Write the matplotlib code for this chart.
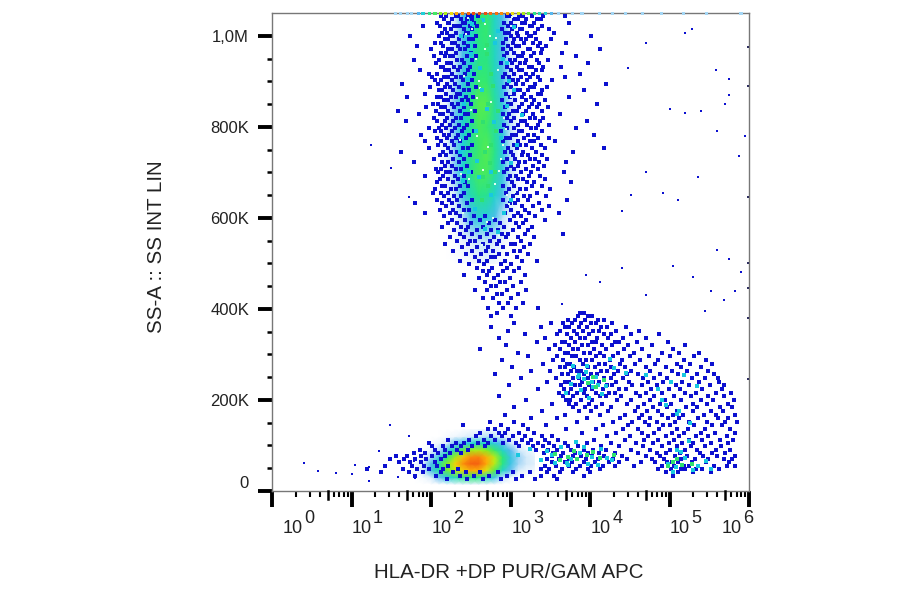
import numpy as np
import matplotlib
matplotlib.use('Agg')
import matplotlib.pyplot as plt
from matplotlib.colors import LinearSegmentedColormap

plt.rcParams['font.family'] = ['Liberation Sans', 'DejaVu Sans']

# density grids (x in decades, y in thousands, level 0-10)
column_x = [2.0, 2.1, 2.2, 2.3, 2.4, 2.5, 2.6, 2.7, 2.8, 2.9, 3.0, 3.1, 3.2]
column_y = [500, 550, 600, 650, 700, 750, 800, 850, 900, 950, 1000, 1050]
column_level = [
    [0, 0, 0, 0, 0.1, 0.3, 0.5, 0.5, 0.3, 0.1, 0, 0, 0],
    [0, 0, 0, 0.2, 0.6, 1.0, 1.3, 1.3, 1.0, 0.5, 0.1, 0, 0],
    [0, 0, 0.1, 0.5, 1.3, 2.2, 2.8, 2.8, 2.2, 1.3, 0.4, 0, 0],
    [0, 0, 0.3, 1.1, 2.4, 3.4, 4.0, 3.9, 3.2, 2.2, 0.9, 0.2, 0],
    [0, 0.1, 0.6, 1.7, 3.1, 4.0, 4.6, 4.6, 3.8, 2.6, 1.3, 0.3, 0],
    [0, 0.1, 0.6, 1.7, 3.0, 3.8, 4.4, 4.8, 4.0, 2.8, 1.4, 0.3, 0],
    [0, 0.1, 0.6, 1.8, 3.1, 3.8, 4.6, 4.4, 3.7, 2.6, 1.3, 0.3, 0],
    [0, 0.1, 0.6, 1.8, 3.1, 4.0, 4.8, 4.8, 3.8, 2.6, 1.3, 0.3, 0],
    [0, 0.1, 0.4, 1.4, 2.5, 3.5, 4.3, 4.3, 3.4, 2.4, 1.1, 0.2, 0],
    [0, 0, 0.3, 1.1, 2.2, 3.2, 4.0, 4.1, 3.3, 2.2, 1.0, 0.2, 0],
    [0, 0, 0.3, 1.1, 2.2, 3.1, 4.1, 4.3, 3.3, 2.2, 1.0, 0.2, 0],
    [0, 0, 0.3, 1.1, 2.2, 3.1, 4.1, 4.3, 3.3, 2.2, 1.0, 0.2, 0],
]

core_x = [1.7, 1.8, 1.9, 2.0, 2.1, 2.2, 2.3, 2.4, 2.5, 2.6, 2.7, 2.8, 2.9, 3.0, 3.1, 3.2, 3.3]
core_y = [15, 30, 45, 60, 75, 90, 105, 120, 135]
core_level = [
    [0, 0, 0, 0, 0.1, 0.3, 0.5, 0.6, 0.7, 0.6, 0.4, 0.2, 0, 0, 0, 0, 0],
    [0, 0, 0.3, 1.0, 1.9, 2.8, 3.4, 3.9, 4.2, 4.0, 3.4, 2.4, 1.3, 0.5, 0.1, 0, 0],
    [0, 0.3, 1.0, 2.3, 3.6, 5.0, 6.2, 7.2, 7.8, 7.8, 6.6, 4.8, 3.2, 1.9, 1.0, 0.5, 0.3],
    [0, 0.3, 1.0, 2.2, 3.6, 5.4, 7.2, 8.4, 9.2, 9.2, 8.0, 6.2, 4.1, 2.5, 1.5, 1.1, 0.8],
    [0, 0.1, 0.5, 1.4, 2.6, 4.0, 5.8, 7.4, 8.5, 8.7, 7.8, 6.2, 4.2, 2.6, 1.6, 1.1, 0.7],
    [0, 0, 0.1, 0.6, 1.3, 2.4, 3.6, 4.8, 5.8, 6.0, 5.4, 4.4, 3.2, 2.0, 1.1, 0.6, 0.3],
    [0, 0, 0, 0.1, 0.5, 1.1, 1.8, 2.4, 3.0, 3.3, 3.2, 2.7, 2.0, 1.2, 0.5, 0.1, 0],
    [0, 0, 0, 0, 0, 0.2, 0.4, 0.7, 1.0, 1.2, 1.4, 1.3, 0.9, 0.4, 0.1, 0, 0],
    [0, 0, 0, 0, 0, 0, 0, 0.1, 0.2, 0.3, 0.4, 0.4, 0.2, 0.1, 0, 0, 0],
]

# single events, x in 1/100 decade per row of y (thousands)
gran_rows = [
    (1043, [213, 219, 231, 234, 247, 251, 259, 296, 299, 311, 316, 327, 341, 368]),
    (1036, [216, 226, 238, 245, 252, 304, 309, 320, 333, 338]),
    (1029, [208, 221, 223, 240, 243, 254, 292, 301, 314, 318, 330, 373]),
    (1021, [190, 211, 229, 233, 236, 249, 258, 297, 306, 324, 327, 339]),
    (1014, [218, 225, 241, 252, 289, 302, 312, 315, 335, 349]),
    (1007, [214, 220, 232, 244, 246, 293, 298, 308, 321, 331, 355]),
    (999, [173, 210, 224, 228, 239, 256, 300, 310, 323, 326, 401]),
    (992, [217, 222, 235, 248, 253, 294, 305, 313, 319, 332, 351]),
    (984, [205, 212, 227, 230, 242, 290, 303, 317, 328, 337, 370]),
    (977, [183, 215, 234, 247, 255, 297, 307, 311, 334, 345]),
    (970, [200, 221, 226, 237, 243, 291, 300, 322, 325, 340, 412]),
    (962, [213, 219, 231, 250, 296, 304, 316, 329, 338, 365]),
    (955, [204, 217, 224, 228, 245, 257, 292, 309, 314, 326, 383]),
    (947, [178, 210, 233, 239, 252, 299, 306, 320, 333, 347]),
    (940, [206, 220, 225, 241, 288, 302, 312, 318, 336, 398]),
    (932, [212, 215, 229, 236, 249, 295, 308, 323, 327, 341, 364]),
    (925, [186, 218, 223, 234, 246, 301, 311, 315, 332, 339]),
    (917, [198, 208, 227, 243, 254, 293, 305, 319, 328, 387]),
    (910, [201, 216, 222, 232, 238, 290, 298, 313, 325, 335, 369]),
    (902, [205, 213, 226, 240, 251, 303, 310, 321, 337, 352]),
    (895, [164, 209, 220, 230, 247, 296, 307, 316, 331, 420]),
    (888, [199, 217, 224, 235, 257, 292, 300, 324, 329, 346]),
    (880, [210, 214, 228, 242, 248, 309, 312, 322, 340, 392]),
    (873, [193, 219, 233, 237, 294, 304, 317, 334, 338]),
    (865, [170, 207, 212, 225, 231, 244, 253, 299, 314, 326, 373]),
    (858, [216, 221, 239, 246, 289, 306, 320, 330, 343]),
    (850, [203, 209, 227, 234, 250, 297, 301, 315, 327, 336, 409]),
    (843, [194, 213, 218, 229, 241, 293, 311, 323, 333, 347]),
    (835, [158, 206, 222, 236, 255, 303, 308, 319, 339]),
    (828, [185, 211, 215, 226, 243, 247, 290, 298, 316, 328, 362]),
    (820, [204, 220, 232, 238, 295, 305, 325, 331, 341]),
    (813, [168, 208, 217, 228, 251, 300, 313, 318, 337, 396]),
    (805, [214, 224, 235, 245, 292, 309, 321, 334, 348]),
    (798, [197, 210, 219, 230, 242, 296, 304, 326, 332, 382]),
    (790, [205, 212, 227, 239, 254, 288, 311, 315, 340]),
    (783, [187, 216, 223, 234, 248, 302, 307, 322, 329, 405]),
    (775, [207, 220, 231, 244, 294, 299, 317, 335, 349]),
    (768, [193, 213, 226, 237, 291, 310, 324, 330, 356]),
    (760, [209, 218, 229, 252, 305, 312, 319, 338]),
    (753, [198, 222, 240, 246, 297, 308, 327, 343, 418]),
    (745, [162, 215, 225, 233, 293, 301, 316, 332, 379]),
    (738, [211, 219, 236, 249, 303, 314, 322, 339]),
    (730, [204, 228, 242, 296, 306, 325, 331, 346]),
    (723, [178, 214, 221, 235, 290, 311, 318, 336, 370]),
    (715, [217, 226, 245, 300, 309, 328, 342]),
    (708, [206, 212, 232, 238, 295, 304, 320, 334]),
    (700, [209, 219, 224, 250, 292, 313, 326, 367]),
    (693, [193, 215, 230, 241, 299, 307, 323, 337]),
    (685, [211, 222, 234, 297, 310, 316, 344]),
    (678, [207, 228, 243, 302, 321, 330, 376]),
    (670, [214, 218, 236, 247, 291, 305, 327, 339]),
    (663, [205, 225, 232, 298, 312, 319, 350]),
    (655, [202, 212, 221, 241, 294, 308, 333]),
    (648, [216, 229, 238, 303, 317, 325, 345]),
    (640, [208, 223, 233, 252, 290, 310, 322, 371]),
    (633, [180, 214, 226, 245, 299, 306, 336]),
    (625, [219, 235, 296, 314, 328, 349]),
    (618, [211, 228, 241, 248, 301, 318, 340]),
    (610, [192, 224, 231, 293, 309, 323, 361]),
    (603, [216, 236, 254, 268, 305, 313, 331]),
    (595, [226, 243, 262, 281, 299, 320, 343]),
    (588, [221, 233, 250, 273, 287, 307, 316]),
    (580, [214, 238, 247, 265, 292, 311, 327]),
    (573, [229, 244, 258, 276, 284, 303, 322]),
    (565, [236, 251, 270, 289, 297, 318, 366]),
    (558, [224, 241, 262, 279, 294, 309, 330]),
    (550, [233, 249, 255, 274, 286, 313]),
    (543, [218, 246, 266, 283, 300, 306, 325]),
    (535, [239, 258, 272, 291, 317]),
    (528, [228, 252, 269, 278, 304, 312]),
    (520, [244, 263, 285, 296, 322]),
    (513, [255, 275, 281, 308]),
    (505, [236, 260, 271, 293, 315, 333]),
    (498, [248, 267, 288, 301]),
    (490, [258, 277, 296, 311]),
    (483, [265, 273, 290, 305]),
    (475, [242, 270, 284, 318]),
    (468, [261, 279, 299]),
    (460, [268, 287, 293, 313]),
    (450, [276, 282, 303]),
    (441, [255, 271, 295, 320]),
    (432, [283, 289, 309]),
    (423, [266, 278, 301]),
    (412, [286, 297, 316]),
    (401, [272, 291, 307, 334]),
]

low_rows = [
    (392, [283, 387, 392]),
    (384, [275, 300, 385, 398, 403]),
    (376, [372, 381, 394, 410, 418]),
    (368, [305, 351, 366, 377, 389, 401, 407, 428]),
    (360, [276, 338, 369, 373, 386, 396, 414, 421, 445]),
    (352, [297, 362, 380, 391, 404, 411, 433, 462]),
    (344, [318, 359, 371, 384, 399, 418, 426, 452, 487]),
    (336, [285, 344, 376, 388, 394, 409, 423, 441, 470]),
    (328, [333, 365, 369, 381, 402, 407, 431, 436, 459, 498]),
    (320, [294, 356, 374, 390, 397, 415, 428, 448, 478, 520]),
    (312, [262, 348, 362, 379, 385, 405, 420, 443, 466, 505]),
    (304, [310, 368, 372, 393, 400, 412, 435, 455, 491, 512, 537]),
    (296, [322, 358, 377, 383, 408, 417, 429, 450, 474, 500, 531]),
    (288, [289, 353, 366, 387, 395, 403, 425, 440, 463, 486, 518, 546]),
    (280, [341, 371, 375, 391, 411, 419, 438, 457, 482, 509, 526, 553]),
    (272, [302, 362, 368, 380, 398, 406, 427, 444, 471, 495, 514, 540]),
    (264, [326, 350, 376, 384, 389, 414, 422, 435, 452, 476, 503, 522, 548]),
    (256, [280, 365, 372, 393, 401, 409, 430, 446, 460, 488, 511, 534, 556]),
    (248, [313, 357, 378, 386, 397, 418, 426, 442, 467, 480, 497, 528, 545, 561]),
    (240, [346, 369, 374, 390, 404, 411, 433, 449, 473, 492, 516, 537, 562]),
    (232, [298, 363, 381, 388, 399, 421, 428, 453, 465, 484, 508, 524, 551, 569]),
    (224, [335, 367, 376, 394, 402, 416, 437, 445, 477, 499, 513, 541, 566]),
    (216, [361, 372, 384, 392, 407, 424, 431, 458, 470, 490, 519, 533, 558, 577]),
    (208, [285, 366, 379, 396, 412, 420, 439, 463, 481, 506, 527, 549, 569]),
    (200, [320, 370, 375, 389, 403, 434, 451, 475, 494, 515, 539, 555, 581]),
    (192, [352, 373, 383, 399, 415, 446, 468, 488, 502, 530, 547, 573]),
    (184, [304, 378, 394, 408, 427, 461, 479, 497, 521, 535, 564, 578]),
    (176, [339, 386, 401, 423, 456, 472, 486, 510, 529, 552, 567]),
    (168, [293, 368, 412, 444, 466, 491, 504, 517, 543, 559, 582]),
    (160, [326, 358, 396, 438, 462, 476, 498, 512, 536, 561, 574]),
    (152, [274, 305, 384, 429, 453, 469, 484, 507, 525, 547, 570, 585]),
    (144, [240, 288, 316, 345, 416, 448, 474, 492, 500, 531, 554, 566]),
    (136, [272, 281, 297, 322, 370, 408, 441, 460, 487, 509, 523, 545, 576]),
    (128, [262, 285, 293, 311, 330, 390, 433, 465, 481, 503, 518, 539, 557, 583]),
    (120, [256, 275, 289, 303, 318, 339, 352, 421, 450, 473, 495, 512, 533, 548, 572]),
    (112, [222, 248, 267, 281, 298, 314, 326, 344, 360, 405, 444, 468, 486, 506, 524, 541, 563, 580]),
    (105, [198, 231, 242, 259, 272, 290, 307, 322, 335, 349, 368, 396, 426, 458, 479, 499, 516, 530, 552, 574]),
    (98, [201, 215, 226, 238, 252, 268, 311, 328, 341, 355, 372, 385, 414, 437, 467, 490, 510, 527, 545, 565]),
    (91, [186, 205, 218, 233, 246, 332, 347, 359, 376, 392, 404, 420, 452, 475, 501, 519, 535, 558, 576]),
    (84, [178, 192, 209, 224, 238, 342, 354, 366, 381, 397, 411, 432, 461, 484, 496, 513, 538, 553, 570]),
    (77, [156, 170, 187, 201, 218, 352, 363, 378, 389, 402, 418, 440, 470, 488, 507, 522, 542, 560, 583]),
    (70, [148, 166, 180, 194, 212, 346, 361, 374, 384, 395, 410, 429, 447, 478, 493, 515, 532, 549, 568, 579]),
    (63, [160, 173, 188, 205, 352, 368, 377, 392, 406, 424, 436, 464, 482, 497, 503, 511, 528, 546, 575]),
    (56, [142, 176, 191, 208, 222, 343, 357, 373, 388, 401, 416, 431, 455, 490, 498, 506, 518, 525, 536, 556, 572, 583]),
    (49, [120, 165, 183, 198, 215, 234, 338, 349, 365, 382, 397, 412, 486, 502, 514, 520, 533, 541, 562]),
    (42, [137, 172, 190, 212, 228, 244, 262, 284, 303, 325, 346, 362, 378, 400, 495, 511, 530, 552]),
    (34, [180, 206, 236, 254, 273, 296, 314, 338, 355, 392, 504]),
    (26, [220, 245, 266, 288, 307, 331, 358]),
]

sparse_x = [40, 58, 80, 100, 105, 122, 135, 148, 122, 158, 172, 178, 148, 180,
            365, 440, 452, 470, 492, 511, 536, 560, 588, 575, 540, 520, 500, 570, 595, 560, 582,
            395, 412, 440, 470, 505, 530, 552, 575, 590, 568, 545,
            125, 150, 172, 448, 470, 528, 575, 558, 520]
sparse_y = [62, 45, 40, 38, 58, 52, 88, 72, 22, 30, 120, 65, 145, 28,
            410, 615, 650, 700, 655, 640, 690, 790, 735, 870, 835, 830, 840, 850, 780, 530,
            440, 475, 460, 490, 430, 495, 470, 440, 510, 480, 420, 395,
            760, 710, 645, 930, 985, 1015, 905, 925, 1005]
edge_sparse_y = [975, 890, 645, 500, 445, 380, 245]

# denser colours on top of the grids
cyan_x = [238, 250, 262, 281, 296, 305, 314, 242, 256, 270, 288, 301, 248, 260, 276, 292, 308,
          236, 255, 268, 284, 300, 246, 264, 279, 296, 240, 258, 275, 290, 304, 252, 266, 284, 298,
          310, 325, 338, 346, 352, 364, 371, 376, 388, 402, 414, 428, 356, 372, 392, 410, 422, 382, 398,
          385, 389, 395, 399, 402, 410, 378, 415, 396, 420, 408, 392, 404, 376, 430, 445, 386, 370, 425,
          470, 486, 495, 502, 512, 518, 534, 490, 510, 526,
          498, 508, 520, 530, 546, 505, 515, 536, 552, 510, 524]
cyan_y = [1000, 960, 930, 985, 940, 880, 825, 850, 790, 840, 775, 720, 700, 690, 650, 610, 760,
          745, 620, 575, 570, 640, 905, 880, 810, 845, 680, 725, 700, 950, 1020, 1025, 1035, 1010, 900,
          78, 92, 68, 88, 78, 96, 62, 70, 84, 74, 92, 68, 62, 58, 96, 58, 72, 108, 60,
          250, 222, 262, 205, 240, 232, 275, 212, 275, 230, 250, 245, 228, 235, 270, 260, 255, 215, 290,
          255, 225, 190, 240, 175, 255, 230, 200, 170, 150,
          60, 52, 72, 46, 66, 42, 85, 55, 48, 90, 110]
green_x = [262, 270, 278, 272, 266, 282, 275, 268, 280, 272, 264, 276, 270, 284, 274, 266,
           356, 372, 362, 396, 380, 412, 430, 384, 404, 398, 408, 404, 418, 504, 516, 510, 528, 498]
green_y = [1030, 980, 890, 850, 810, 790, 760, 745, 700, 670, 640, 915, 960, 835, 720, 690,
           82, 74, 68, 78, 88, 72, 80, 70, 86, 238, 228, 250, 244, 64, 58, 70, 60, 54]
hole_x = [252, 268, 284, 262, 276, 292, 258, 272, 288, 266, 280, 296, 254, 270, 286, 264, 278, 260, 274, 290,
          246, 256, 282, 300, 250, 294, 242, 304, 248, 298, 236, 310, 244, 268, 306, 238, 258, 286, 302, 240]
hole_y = [1015, 970, 925, 885, 855, 820, 780, 755, 730, 705, 675, 650, 620, 590, 560, 540, 600, 900, 1000, 760,
          1038, 948, 996, 866, 836, 796, 912, 716, 686, 630, 770, 972, 1004, 1026, 656, 696, 864, 704, 1042, 610]

# events sitting on the top edge of the plot: position and colour level
edge_x = [155, 162, 170, 176, 184, 190, 198, 205, 212, 218, 226, 232, 240, 247, 254, 261, 268, 275, 282, 289,
          296, 303, 310, 316, 323, 330, 337, 344, 352, 360, 378, 390, 412, 428, 445, 466, 490, 518, 546, 590]
edge_level = [1.5, 1.5, 1.5, 1.5, 2, 3, 4, 4.5, 5.5, 6, 7, 8, 8.5, 9, 9.5, 9.5, 9.5, 9, 9, 8.5,
              8, 7, 6.5, 6, 5, 4, 3.5, 3, 2, 1.5, 1.5, 1.5, 1.5, 1.5, 1.5, 1.5, 1.5, 1.5, 1.5, 1.5]

y_major = [0, 200, 400, 600, 800, 1000]
y_labels = ['0', '200K', '400K', '600K', '800K', '1,0M']
decades = [0, 1, 2, 3, 4, 5, 6]
# left edge of each 10^n label in 1/100 decade, relative to the tick
label_shift = [13, 0, 1, 2, 1, 0, -34]


def rows_to_points(rows):
    xs = []
    ys = []
    for y, row in rows:
        for x in row:
            xs.append(x / 100)
            ys.append(y)
    return xs, ys


cmap = LinearSegmentedColormap.from_list('pseudo', [
    (0.0, '#ffffff'), (0.12, '#d0e8fa'), (0.2, '#58b8f0'), (0.3, '#20d0d8'), (0.42, '#2ce878'),
    (0.55, '#88f020'), (0.68, '#e8e810'), (0.8, '#ffa808'), (0.9, '#f87010'), (1.0, '#e83010')])

fig = plt.figure(figsize=(9, 5.94), dpi=100)
ax = fig.add_axes([272 / 900, 103 / 594, 477 / 900, 478 / 594])

ax.pcolormesh(column_x, column_y, column_level, cmap=cmap, vmin=0, vmax=10, shading='gouraud', zorder=1)
ax.pcolormesh(core_x, core_y, core_level, cmap=cmap, vmin=0, vmax=10, shading='gouraud', zorder=1)

blue = '#0c10d0'
gx, gy = rows_to_points(gran_rows)
lx, ly = rows_to_points(low_rows)
ax.scatter(gx, gy, s=5, marker='s', color=blue, linewidths=0, zorder=3)
ax.scatter(lx, ly, s=5, marker='s', color=blue, linewidths=0, zorder=3)
ax.scatter(np.array(sparse_x) / 100, sparse_y, s=3.6, marker='s', color=blue, linewidths=0, zorder=3)
ax.scatter([5.99] * len(edge_sparse_y), edge_sparse_y, s=3, marker='s', color='#303060', linewidths=0, zorder=3)
ax.scatter(np.array(hole_x) / 100, hole_y, s=4.2, marker='s', color='#e0fff0', linewidths=0, zorder=4)
ax.scatter(np.array(cyan_x) / 100, cyan_y, s=5, marker='s', color='#18c8e0', linewidths=0, zorder=4)
ax.scatter(np.array(green_x) / 100, green_y, s=5, marker='s', color='#30e070', linewidths=0, zorder=4)
ax.scatter(np.array(edge_x) / 100, [1048] * len(edge_x), c=edge_level, cmap=cmap, vmin=0, vmax=10,
           s=5, marker='s', linewidths=0, zorder=5, clip_on=False)

ax.set_xlim(0, 6)
ax.set_ylim(0, 1050)

for side in ax.spines:
    ax.spines[side].set_color('#777777')
    ax.spines[side].set_linewidth(1.0)

ax.set_yticks(y_major)
ax.set_yticklabels(y_labels, fontsize=12, color='#222222')
ax.get_yticklabels()[0].set_verticalalignment('bottom')
ax.set_yticks(np.arange(0, 1050, 50), minor=True)
ax.tick_params(axis='y', which='major', length=10, width=2.8, pad=6.5)
ax.tick_params(axis='y', which='minor', length=3.6, width=1.8)

ax.set_xticks(decades)
ax.set_xticklabels([])
minor = []
for d in decades[:-1]:
    for m in [2, 3, 4, 6, 7, 8, 9]:
        minor.append(d + np.log10(m))
ax.set_xticks(minor, minor=True)
ax.tick_params(axis='x', which='major', length=11.5, width=2.8)
ax.tick_params(axis='x', which='minor', length=4.5, width=1.5)
for d in decades[:-1]:
    ax.plot([d + np.log10(5)] * 2, [0, -17], color='black', lw=1.8, clip_on=False, zorder=6)

for d, shift in zip(decades, label_shift):
    x = d + shift / 100
    ax.annotate('10', xy=(x, 0), xycoords=('data', 'axes fraction'), xytext=(0, -30), textcoords='offset points',
                ha='left', va='baseline', fontsize=13, color='#222222')
    ax.annotate(str(d), xy=(x, 0), xycoords=('data', 'axes fraction'), xytext=(15.5, -23), textcoords='offset points',
                ha='left', va='baseline', fontsize=13, color='#222222')

fig.text(509 / 900, 1 - 572 / 594, 'HLA-DR +DP PUR/GAM APC', ha='center', va='center', fontsize=14.8, color='#222222')
fig.text(157 / 900, 1 - 247 / 594, 'SS-A :: SS INT LIN', ha='center', va='center', rotation=90, fontsize=14.8,
         color='#222222')

fig.savefig('out.png', dpi=100)
